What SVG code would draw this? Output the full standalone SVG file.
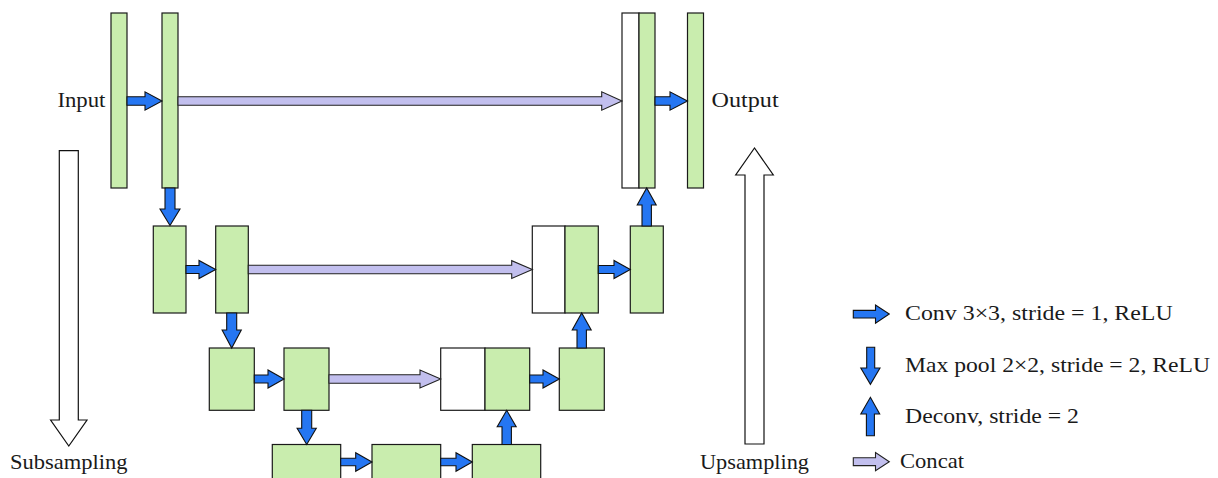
<svg xmlns="http://www.w3.org/2000/svg" width="1218" height="478" viewBox="0 0 1218 478">
  <style>
    .fm { fill: #c9edae; stroke: #1a1a1a; stroke-width: 1.2; }
    .cp { fill: #ffffff; stroke: #1a1a1a; stroke-width: 1.2; }
    .conv { fill: #2576f2; stroke: #111; stroke-width: 1.1; stroke-linejoin: miter; }
    .cat { fill: #c2bfee; stroke: #222; stroke-width: 1.1; stroke-linejoin: miter; }
    .big { fill: #ffffff; stroke: #111; stroke-width: 1.2; stroke-linejoin: miter; }
    text { font-family: "Liberation Serif", "DejaVu Serif", serif; font-size: 21px; fill: #1a1a1a; }
  </style>

  <!-- level 1 -->
  <g id="in1"><rect class="fm" x="111" y="13" width="16" height="175"/></g>
  <g id="c1"><rect class="fm" x="162" y="13" width="16" height="175"/></g>
  <g id="u1"><rect class="cp" x="622" y="13" width="17" height="175"/><rect class="fm" x="639" y="13" width="16" height="175"/></g>
  <g id="out1"><rect class="fm" x="687.5" y="13" width="16" height="175"/></g>

  <!-- level 2 -->
  <g id="d2a"><rect class="fm" x="153.3" y="226" width="32.7" height="87"/></g>
  <g id="d2b"><rect class="fm" x="215.7" y="226" width="32.6" height="87"/></g>
  <g id="u2"><rect class="cp" x="532.3" y="226" width="32.7" height="87"/><rect class="fm" x="565" y="226" width="33.3" height="87"/></g>
  <g id="u2b"><rect class="fm" x="630.3" y="226" width="33" height="87"/></g>

  <!-- level 3 -->
  <g id="d3a"><rect class="fm" x="209.3" y="348" width="45" height="62.3"/></g>
  <g id="d3b"><rect class="fm" x="284" y="348" width="45" height="62.3"/></g>
  <g id="u3"><rect class="cp" x="440.7" y="348" width="44.3" height="62.3"/><rect class="fm" x="485" y="348" width="44.7" height="62.3"/></g>
  <g id="u3b"><rect class="fm" x="559.3" y="348" width="45" height="62.3"/></g>

  <!-- bottleneck -->
  <g id="b1"><rect class="fm" x="272.3" y="444.5" width="68.4" height="80"/></g>
  <g id="b2"><rect class="fm" x="372" y="444.5" width="68.7" height="80"/></g>
  <g id="b3"><rect class="fm" x="472.3" y="444.5" width="68.4" height="80"/></g>

  <!-- connectors -->
  <g id="connectors">
    <!-- conv 3x3 (right) -->
    <polygon class="conv" points="127,96.8 145,96.8 145,91.8 162,101 145,110.2 145,105.2 127,105.2"/>
    <polygon class="conv" points="655,96.8 670,96.8 670,91.8 687.5,101 670,110.2 670,105.2 655,105.2"/>
    <polygon class="conv" points="186,265.5 199,265.5 199,260.5 215.7,269.5 199,278.5 199,273.5 186,273.5"/>
    <polygon class="conv" points="598.3,265.5 614,265.5 614,260.5 630.3,269.5 614,278.5 614,273.5 598.3,273.5"/>
    <polygon class="conv" points="254.3,375 268,375 268,370 284,379 268,388 268,383 254.3,383"/>
    <polygon class="conv" points="529.7,375 543,375 543,370 559.3,379 543,388 543,383 529.7,383"/>
    <polygon class="conv" points="340.7,458.2 355.7,458.2 355.7,452.8 372,462 355.7,471.2 355.7,465.8 340.7,465.8"/>
    <polygon class="conv" points="440.7,458.2 456,458.2 456,452.8 472.3,462 456,471.2 456,465.8 440.7,465.8"/>

    <!-- max pool (down) -->
    <polygon class="conv" points="165,188 175,188 175,209 180,209 170,225.5 160,209 165,209"/>
    <polygon class="conv" points="226.7,313 236.7,313 236.7,330 241.3,330 231.7,348 222.1,330 226.7,330"/>
    <polygon class="conv" points="301.7,410.3 311.7,410.3 311.7,428.3 316.3,428.3 306.7,444.5 297.1,428.3 301.7,428.3"/>

    <!-- deconv (up) -->
    <polygon class="conv" points="502,444.5 511.4,444.5 511.4,426.7 516.2,426.7 506.7,410.3 497.2,426.7 502,426.7"/>
    <polygon class="conv" points="577,348 586.4,348 586.4,330 591.2,330 581.7,313 572.2,330 577,330"/>
    <polygon class="conv" points="642,226 651.4,226 651.4,205 656.2,205 646.7,188 637.2,205 642,205"/>

    <!-- concat (skip) -->
    <polygon class="cat" points="178,96.8 601.7,96.8 601.7,91.8 622,101 601.7,110.2 601.7,105.2 178,105.2"/>
    <polygon class="cat" points="248.3,265.2 511.7,265.2 511.7,260.7 532.3,269.5 511.7,278.5 511.7,273.8 248.3,273.8"/>
    <polygon class="cat" points="329,374.8 420,374.8 420,370 440.7,379 420,388 420,383.2 329,383.2"/>
  </g>

  <!-- direction arrows -->
  <g id="subsampling">
    <polygon class="big" points="59.3,150.7 78.3,150.7 78.3,420 87,420 68.8,446 50.6,420 59.3,420"/>
    <text x="10" y="469.3" textLength="117.5" lengthAdjust="spacingAndGlyphs">Subsampling</text>
  </g>
  <g id="upsampling">
    <polygon class="big" points="745,444 764,444 764,175 773.3,175 754.5,148 735.7,175 745,175"/>
    <text x="700" y="469.3" textLength="109" lengthAdjust="spacingAndGlyphs">Upsampling</text>
  </g>

  <!-- input / output labels -->
  <text x="57.4" y="106.7" textLength="48" lengthAdjust="spacingAndGlyphs">Input</text>
  <text x="711.6" y="106.7" textLength="67" lengthAdjust="spacingAndGlyphs">Output</text>

  <!-- legend -->
  <g id="legend">
    <polygon class="conv" points="853.3,310.4 875.5,310.4 875.5,305 889.3,314 875.5,323.2 875.5,318 853.3,318"/>
    <text x="905" y="320.3" textLength="267.7" lengthAdjust="spacingAndGlyphs">Conv 3×3, stride = 1, ReLU</text>

    <polygon class="conv" points="866.7,347.3 874.7,347.3 874.7,368 880,368 870.4,384.3 860.8,368 866.7,368"/>
    <text x="905" y="371.7" textLength="305" lengthAdjust="spacingAndGlyphs">Max pool 2×2, stride = 2, ReLU</text>

    <polygon class="conv" points="866.4,435.7 874.4,435.7 874.4,414 879.7,414 870.4,397.3 860.8,414 866.4,414"/>
    <text x="905" y="422.7" textLength="174" lengthAdjust="spacingAndGlyphs">Deconv, stride = 2</text>

    <polygon class="cat" points="853.3,457.8 875.5,457.8 875.5,452.6 889.3,461.7 875.5,470.8 875.5,465.6 853.3,465.6"/>
    <text x="900" y="468.3" textLength="64" lengthAdjust="spacingAndGlyphs">Concat</text>
  </g>
</svg>
